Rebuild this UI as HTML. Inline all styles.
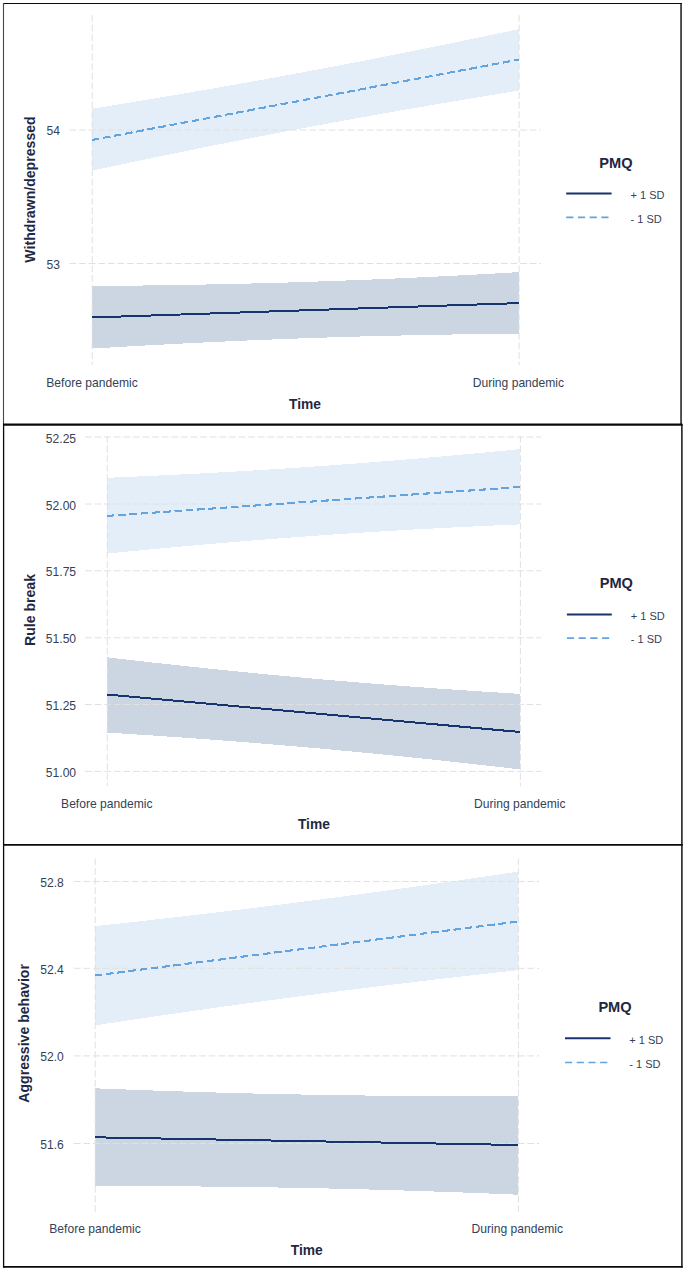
<!DOCTYPE html><html><head><meta charset="utf-8"><title>PMQ x Time</title>
<style>html,body{margin:0;padding:0;background:#fff}svg{display:block}text{font-family:"Liberation Sans",sans-serif}</style></head><body>
<svg width="685" height="1271" viewBox="0 0 685 1271">
<rect x="0" y="0" width="685" height="1271" fill="#ffffff"/>
<!-- panel: Withdrawn/depressed -->
<polygon points="91.8,108.75 109.6,105.88 127.4,102.97 145.2,100.03 162.9,97.06 180.7,94.04 198.5,90.99 216.3,87.91 234.1,84.78 251.9,81.61 269.7,78.40 287.5,75.14 305.2,71.85 323.0,68.51 340.8,65.13 358.6,61.71 376.4,58.25 394.2,54.75 412.0,51.20 429.8,47.62 447.6,44.00 465.3,40.34 483.1,36.64 500.9,32.91 518.7,29.15 518.7,90.65 500.9,93.54 483.1,96.46 465.3,99.41 447.6,102.40 429.8,105.43 412.0,108.50 394.2,111.60 376.4,114.75 358.6,117.94 340.8,121.17 323.0,124.44 305.2,127.75 287.5,131.11 269.7,134.50 251.9,137.94 234.1,141.42 216.3,144.94 198.5,148.51 180.7,152.11 162.9,155.74 145.2,159.42 127.4,163.13 109.6,166.87 91.8,170.65" fill="#e3eef8" shape-rendering="crispEdges"/>
<polygon points="91.8,286.00 109.6,285.86 127.4,285.69 145.2,285.48 162.9,285.24 180.7,284.97 198.5,284.66 216.3,284.31 234.1,283.92 251.9,283.49 269.7,283.02 287.5,282.50 305.2,281.95 323.0,281.35 340.8,280.72 358.6,280.04 376.4,279.32 394.2,278.55 412.0,277.75 429.8,276.91 447.6,276.03 465.3,275.11 483.1,274.16 500.9,273.17 518.7,272.15 518.7,333.65 500.9,333.83 483.1,334.04 465.3,334.29 447.6,334.57 429.8,334.89 412.0,335.25 394.2,335.65 376.4,336.08 358.6,336.56 340.8,337.08 323.0,337.65 305.2,338.25 287.5,338.90 269.7,339.58 251.9,340.31 234.1,341.08 216.3,341.89 198.5,342.74 180.7,343.63 162.9,344.56 145.2,345.52 127.4,346.51 109.6,347.54 91.8,348.60" fill="#cbd6e2" shape-rendering="crispEdges"/>
<g stroke="#e0e0e0" stroke-width="1" fill="none">
<line x1="69.6" y1="130.0" x2="541.0" y2="130.0" stroke-dasharray="6.7,2.8875"/>
<line x1="69.6" y1="263.5" x2="541.0" y2="263.5" stroke-dasharray="6.7,2.8875"/>
<line x1="92.2" y1="15.1" x2="92.2" y2="365.2" stroke-dasharray="6.75,2.88"/>
<line x1="519.1" y1="15.1" x2="519.1" y2="365.2" stroke-dasharray="6.75,2.88"/>
</g>
<line x1="91.8" y1="140.0" x2="518.7" y2="59.6" stroke="#63a3de" stroke-width="2.1" shape-rendering="crispEdges" stroke-dasharray="7.6,3.7"/>
<line x1="91.8" y1="317.5" x2="518.7" y2="303.1" stroke="#18346f" stroke-width="2" shape-rendering="crispEdges"/>
<g fill="#343f58" font-size="12.1">
<text x="60" y="135.0" text-anchor="end">54</text>
<text x="60" y="268.5" text-anchor="end">53</text>
<text x="92" y="386.90000000000003" text-anchor="middle">Before pandemic</text>
<text x="518.4" y="386.90000000000003" text-anchor="middle">During pandemic</text>
</g>
<text x="305.0" y="408.5" text-anchor="middle" font-weight="bold" font-size="13.8" fill="#1f2842">Time</text>
<text transform="translate(35.2,189.5) rotate(-90)" text-anchor="middle" font-weight="bold" font-size="14.1" fill="#1f2842">Withdrawn/depressed</text>
<text x="615.9" y="167.6" text-anchor="middle" font-weight="bold" font-size="14.6" fill="#1f2842">PMQ</text>
<line x1="566.2" y1="193.5" x2="611.6" y2="193.5" stroke="#18346f" stroke-width="2"/>
<line x1="566.2" y1="217.4" x2="611.6" y2="217.4" stroke="#63a3de" stroke-width="1.7" stroke-dasharray="7.2,4.5"/>
<text x="630.5" y="198.5" font-size="11" fill="#343f58">+ 1 SD</text>
<text x="630.5" y="223.1" font-size="11" fill="#343f58">- 1 SD</text>
<!-- panel: Rule break -->
<polygon points="106.9,477.80 124.1,477.08 141.3,476.33 158.5,475.54 175.8,474.72 193.0,473.85 210.2,472.94 227.4,471.99 244.6,470.99 261.8,469.96 279.0,468.87 296.2,467.75 313.4,466.58 330.7,465.36 347.9,464.09 365.1,462.79 382.3,461.43 399.5,460.04 416.7,458.60 433.9,457.11 451.2,455.59 468.4,454.03 485.6,452.42 502.8,450.78 520.0,449.10 520.0,524.40 502.8,525.13 485.6,525.90 468.4,526.71 451.2,527.56 433.9,528.45 416.7,529.38 399.5,530.35 382.3,531.37 365.1,532.43 347.9,533.53 330.7,534.68 313.4,535.88 296.2,537.12 279.0,538.40 261.8,539.73 244.6,541.11 227.4,542.52 210.2,543.99 193.0,545.49 175.8,547.03 158.5,548.62 141.3,550.24 124.1,551.90 106.9,553.60" fill="#e3eef8" shape-rendering="crispEdges"/>
<polygon points="106.9,657.30 124.1,659.30 141.3,661.26 158.5,663.18 175.8,665.06 193.0,666.91 210.2,668.71 227.4,670.48 244.6,672.20 261.8,673.88 279.0,675.51 296.2,677.10 313.4,678.65 330.7,680.15 347.9,681.61 365.1,683.03 382.3,684.40 399.5,685.73 416.7,687.01 433.9,688.26 451.2,689.46 468.4,690.63 485.6,691.75 502.8,692.84 520.0,693.90 520.0,769.40 502.8,767.40 485.6,765.43 468.4,763.50 451.2,761.61 433.9,759.75 416.7,757.94 399.5,756.17 382.3,754.44 365.1,752.75 347.9,751.11 330.7,749.51 313.4,747.95 296.2,746.44 279.0,744.97 261.8,743.55 244.6,742.17 227.4,740.83 210.2,739.54 193.0,738.28 175.8,737.07 158.5,735.90 141.3,734.76 124.1,733.66 106.9,732.60" fill="#cbd6e2" shape-rendering="crispEdges"/>
<g stroke="#e0e0e0" stroke-width="1" fill="none">
<line x1="85.0" y1="437.0" x2="541.0" y2="437.0" stroke-dasharray="6.72,2.88"/>
<line x1="85.0" y1="504.0" x2="541.0" y2="504.0" stroke-dasharray="6.72,2.88"/>
<line x1="85.0" y1="570.8" x2="541.0" y2="570.8" stroke-dasharray="6.72,2.88"/>
<line x1="85.0" y1="637.8" x2="541.0" y2="637.8" stroke-dasharray="6.72,2.88"/>
<line x1="85.0" y1="704.5" x2="541.0" y2="704.5" stroke-dasharray="6.72,2.88"/>
<line x1="85.0" y1="771.4" x2="541.0" y2="771.4" stroke-dasharray="6.72,2.88"/>
<line x1="107.3" y1="436" x2="107.3" y2="786.1" stroke-dasharray="6.75,2.88"/>
<line x1="520.4" y1="436" x2="520.4" y2="786.1" stroke-dasharray="6.75,2.88"/>
</g>
<line x1="106.89999999999999" y1="515.9" x2="520.0" y2="487.0" stroke="#63a3de" stroke-width="2.1" shape-rendering="crispEdges" stroke-dasharray="7.6,3.7"/>
<line x1="106.89999999999999" y1="694.5" x2="520.0" y2="732.0" stroke="#18346f" stroke-width="2" shape-rendering="crispEdges"/>
<g fill="#343f58" font-size="12.1">
<text x="76.1" y="442.5" text-anchor="end">52.25</text>
<text x="76.1" y="509.5" text-anchor="end">52.00</text>
<text x="76.1" y="576.3" text-anchor="end">51.75</text>
<text x="76.1" y="643.3" text-anchor="end">51.50</text>
<text x="76.1" y="710.0" text-anchor="end">51.25</text>
<text x="76.1" y="776.9" text-anchor="end">51.00</text>
<text x="106.8" y="807.5999999999999" text-anchor="middle">Before pandemic</text>
<text x="519.8" y="807.5999999999999" text-anchor="middle">During pandemic</text>
</g>
<text x="313.9" y="828.9" text-anchor="middle" font-weight="bold" font-size="13.8" fill="#1f2842">Time</text>
<text transform="translate(34.8,610) rotate(-90)" text-anchor="middle" font-weight="bold" font-size="14.1" fill="#1f2842">Rule break</text>
<text x="616.3" y="587.6" text-anchor="middle" font-weight="bold" font-size="14.6" fill="#1f2842">PMQ</text>
<line x1="566.9" y1="614.4" x2="611.8" y2="614.4" stroke="#18346f" stroke-width="2"/>
<line x1="566.9" y1="638.1" x2="611.8" y2="638.1" stroke="#63a3de" stroke-width="1.7" stroke-dasharray="7.2,4.5"/>
<text x="630.8" y="619.5" font-size="11" fill="#343f58">+ 1 SD</text>
<text x="630.8" y="643.4" font-size="11" fill="#343f58">- 1 SD</text>
<!-- panel: Aggressive behavior -->
<polygon points="94.8,926.20 112.4,924.29 130.1,922.35 147.7,920.39 165.3,918.39 183.0,916.36 200.6,914.30 218.2,912.21 235.9,910.08 253.5,907.92 271.1,905.73 288.8,903.51 306.4,901.25 324.0,898.96 341.7,896.63 359.3,894.28 376.9,891.89 394.6,889.46 412.2,887.00 429.8,884.52 447.5,881.99 465.1,879.44 482.7,876.86 500.4,874.24 518.0,871.60 518.0,970.20 500.4,972.13 482.7,974.09 465.1,976.08 447.5,978.11 429.8,980.16 412.2,982.25 394.6,984.36 376.9,986.51 359.3,988.70 341.7,990.92 324.0,993.17 306.4,995.45 288.8,997.77 271.1,1000.12 253.5,1002.50 235.9,1004.92 218.2,1007.37 200.6,1009.85 183.0,1012.37 165.3,1014.91 147.7,1017.49 130.1,1020.10 112.4,1022.73 94.8,1025.40" fill="#e3eef8" shape-rendering="crispEdges"/>
<polygon points="94.8,1088.30 112.4,1089.01 130.1,1089.68 147.7,1090.32 165.3,1090.94 183.0,1091.51 200.6,1092.06 218.2,1092.57 235.9,1093.05 253.5,1093.50 271.1,1093.91 288.8,1094.28 306.4,1094.62 324.0,1094.93 341.7,1095.20 359.3,1095.44 376.9,1095.65 394.6,1095.82 412.2,1095.95 429.8,1096.06 447.5,1096.13 465.1,1096.17 482.7,1096.18 500.4,1096.15 518.0,1096.10 518.0,1194.70 500.4,1193.97 482.7,1193.27 465.1,1192.59 447.5,1191.95 429.8,1191.35 412.2,1190.77 394.6,1190.23 376.9,1189.72 359.3,1189.24 341.7,1188.80 324.0,1188.40 306.4,1188.03 288.8,1187.69 271.1,1187.38 253.5,1187.12 235.9,1186.88 218.2,1186.68 200.6,1186.51 183.0,1186.38 165.3,1186.28 147.7,1186.21 130.1,1186.18 112.4,1186.17 94.8,1186.20" fill="#cbd6e2" shape-rendering="crispEdges"/>
<g stroke="#e0e0e0" stroke-width="1" fill="none">
<line x1="73.8" y1="881.5" x2="539.2" y2="881.5" stroke-dasharray="6.75,2.9"/>
<line x1="73.8" y1="968.3" x2="539.2" y2="968.3" stroke-dasharray="6.75,2.9"/>
<line x1="73.8" y1="1055.9" x2="539.2" y2="1055.9" stroke-dasharray="6.75,2.9"/>
<line x1="73.8" y1="1143.5" x2="539.2" y2="1143.5" stroke-dasharray="6.75,2.9"/>
<line x1="95.2" y1="858.5" x2="95.2" y2="1211.9" stroke-dasharray="6.75,2.88"/>
<line x1="518.4" y1="858.5" x2="518.4" y2="1211.9" stroke-dasharray="6.75,2.88"/>
</g>
<line x1="94.8" y1="975.5" x2="518.0" y2="921.5" stroke="#63a3de" stroke-width="2.1" shape-rendering="crispEdges" stroke-dasharray="7.6,3.7"/>
<line x1="94.8" y1="1137.3" x2="518.0" y2="1145.0" stroke="#18346f" stroke-width="2" shape-rendering="crispEdges"/>
<g fill="#343f58" font-size="12.1">
<text x="63.8" y="887.0" text-anchor="end">52.8</text>
<text x="63.8" y="973.8" text-anchor="end">52.4</text>
<text x="63.8" y="1061.4" text-anchor="end">52.0</text>
<text x="63.8" y="1149.0" text-anchor="end">51.6</text>
<text x="95" y="1233.1" text-anchor="middle">Before pandemic</text>
<text x="517.3" y="1233.1" text-anchor="middle">During pandemic</text>
</g>
<text x="306.7" y="1255.0" text-anchor="middle" font-weight="bold" font-size="13.8" fill="#1f2842">Time</text>
<text transform="translate(29.4,1033.4) rotate(-90)" text-anchor="middle" font-weight="bold" font-size="14.1" fill="#1f2842">Aggressive behavior</text>
<text x="615.0" y="1011.6" text-anchor="middle" font-weight="bold" font-size="14.6" fill="#1f2842">PMQ</text>
<line x1="565.0" y1="1038.3" x2="610.5" y2="1038.3" stroke="#18346f" stroke-width="2"/>
<line x1="565.0" y1="1062.5" x2="610.5" y2="1062.5" stroke="#63a3de" stroke-width="1.7" stroke-dasharray="7.2,4.5"/>
<text x="629.3" y="1043.6" font-size="11" fill="#343f58">+ 1 SD</text>
<text x="629.3" y="1067.5" font-size="11" fill="#343f58">- 1 SD</text>
<g stroke="#0a0a0a" fill="none">
<line x1="3" y1="3.45" x2="681.8" y2="3.45" stroke-width="1.1"/>
<line x1="3.5" y1="3" x2="3.5" y2="424" stroke-width="1.1" stroke="#484848"/>
<line x1="3.6" y1="424" x2="3.6" y2="1267.8" stroke-width="1.3"/>
<line x1="681.05" y1="3" x2="681.05" y2="424" stroke-width="1.4"/>
<line x1="681.9" y1="424" x2="681.9" y2="1267.8" stroke-width="1.45"/>
<line x1="3" y1="424.7" x2="682.4" y2="424.7" stroke-width="2.2"/>
<line x1="3" y1="844.9" x2="682.7" y2="844.9" stroke-width="1.7"/>
<line x1="3" y1="1266.9" x2="682.7" y2="1266.9" stroke-width="1.8"/>
</g>
</svg></body></html>
